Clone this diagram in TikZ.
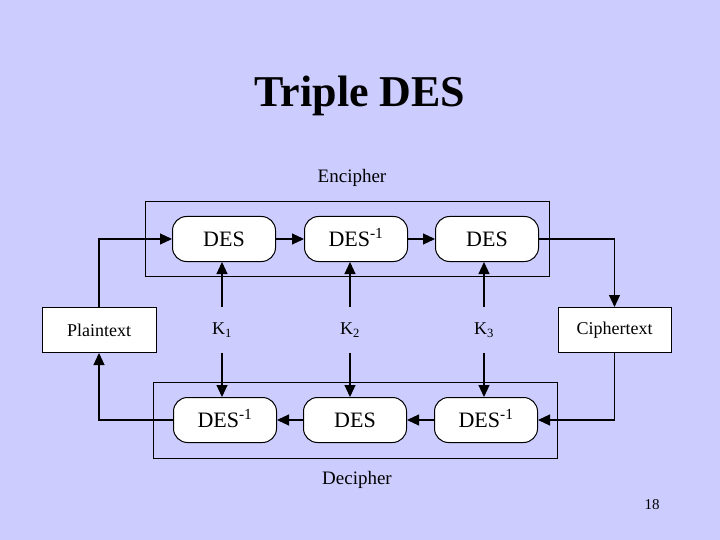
\documentclass[tikz,border=0pt]{standalone}
\usepackage{fontspec}
\setmainfont{Liberation Serif}
\usetikzlibrary{arrows.meta}
\definecolor{slidebg}{HTML}{CCCCFF}

\begin{document}
\begin{tikzpicture}[x=1pt, y=-1pt,
  arr/.style={draw=black, line width=1.1pt, -{Triangle[length=12pt, width=11pt]}},
  round/.style={draw=black, line width=1pt, fill=white, rounded corners=14pt,
    minimum width=103pt, minimum height=45pt, inner sep=0, text height=15pt, text depth=0pt,
    font=\fontsize{22}{22}\selectfont},
  plainbox/.style={draw=black, line width=1pt, fill=white, minimum width=114pt,
    minimum height=45pt, inner sep=0, font=\fontsize{18}{18}\selectfont},
  frame/.style={draw=black, line width=1pt, minimum width=404pt, inner sep=0},
  key/.style={minimum height=46pt, inner sep=0, font=\fontsize{18}{18}\selectfont},
  lab/.style={font=\fontsize{19}{19}\selectfont}]
\fill[slidebg] (0,0) rectangle (720,540);
\useasboundingbox (0,0) rectangle (720,540);
\node[font=\bfseries\fontsize{44}{44}\selectfont] (title) at (360,96) {Triple DES};
% frames
\node[frame, minimum height=74pt] (encbox) at (347,239) {};
\node[frame, minimum height=76pt] (decbox) at (355,420) {};
\node[lab] (enclab) at (352,178) {Encipher};
\node[lab] (declab) at (357,480) {Decipher};
% encipher row
\node[round] (enc1) at (224,239) {DES};
\node[round] (enc2) at (356,239) {DES\textsuperscript{-1}};
\node[round] (enc3) at (487,239) {DES};
% decipher row
\node[round] (dec1) at (225,420) {DES\textsuperscript{-1}};
\node[round] (dec2) at (355,420) {DES};
\node[round] (dec3) at (486,420) {DES\textsuperscript{-1}};
% ends and keys
\node[plainbox] (plain) at (99,330) {Plaintext};
\node[plainbox, minimum width=113pt] (cipher) at (614.5,330) {Ciphertext};
\node[key] (k1) at (222,330) {K\textsubscript{1}};
\node[key] (k2) at (350,330) {K\textsubscript{2}};
\node[key] (k3) at (484,330) {K\textsubscript{3}};
\node[font=\fontsize{15}{15}\selectfont] (page) at (652,505) {18};
% connectors
\draw[arr] (plain.north) |- (enc1.west);
\draw[arr] (enc1) -- (enc2);
\draw[arr] (enc2) -- (enc3);
\draw[arr] (enc3.east) -| (cipher.north);
\draw[arr] (cipher.south) |- (dec3.east);
\draw[arr] (dec3) -- (dec2);
\draw[arr] (dec2) -- (dec1);
\draw[arr] (dec1.west) -| (plain.south);
\foreach \k/\e/\d in {k1/enc1/dec1, k2/enc2/dec2, k3/enc3/dec3} {
  \draw[arr] (\k.north) -- (\k |- \e.south);
  \draw[arr] (\k.south) -- (\k |- \d.north);
}
\end{tikzpicture}
\end{document}
